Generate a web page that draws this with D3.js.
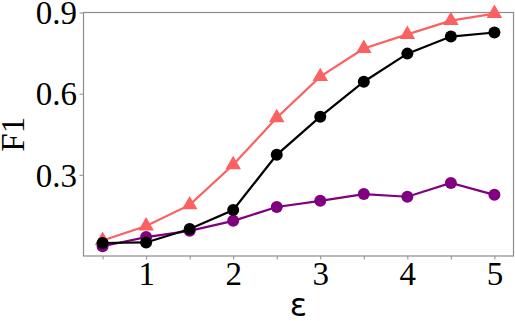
<!DOCTYPE html>
<html>
<head>
<meta charset="utf-8">
<script src="https://cdn.jsdelivr.net/npm/d3@7"></script>
<style>
  body { margin: 0; background: #fff; }
  text { font-family: "Liberation Serif", "Times New Roman", serif; }
</style>
</head>
<body>
<div id="chart"></div>
<script>
// epsilon values on x
var eps = [0.5, 1, 1.5, 2, 2.5, 3, 3.5, 4, 4.5, 5];
// F1 per series
var redF1 = [0.057, 0.111, 0.189, 0.337, 0.511, 0.663, 0.767, 0.819, 0.870, 0.896];
var blackF1 = [0.048, 0.050, 0.100, 0.170, 0.374, 0.515, 0.644, 0.748, 0.811, 0.826];
var purpleF1 = [0.036, 0.070, 0.093, 0.130, 0.181, 0.204, 0.229, 0.219, 0.270, 0.226];
var xTicks = [0.5, 1, 1.5, 2, 2.5, 3, 3.5, 4, 4.5, 5];
var xLabels = [1, 2, 3, 4, 5];
var yTicks = [0.3, 0.6, 0.9];

var width = 515, height = 321;
// plot box edges (don't call it "top", window.top is read only)
var plotL = 83, plotR = 514, plotT = 12.5, plotB = 256;

var svg = d3.select("#chart")
  .append("svg")
  .attr("width", width)
  .attr("height", height);

var x = d3.scaleLinear().domain([0.275, 5.225]).range([plotL, plotR]);
var y = d3.scaleLinear().domain([0, 0.9]).range([plotB, plotT]);

// frame
svg.append("rect")
  .attr("x", plotL + 0.5)
  .attr("y", plotT)
  .attr("width", plotR - plotL - 1)
  .attr("height", plotB - plotT)
  .attr("fill", "none")
  .attr("stroke", "#8c8c8c")
  .attr("stroke-width", 1.2);

// x axis: ticks every 0.5, labels on integers
var xAxis = d3.axisBottom(x)
  .tickValues(xTicks)
  .tickSize(3.5)
  .tickFormat(d => xLabels.indexOf(d) >= 0 ? d3.format("d")(d) : "");
var gx = svg.append("g")
  .attr("transform", "translate(0," + plotB + ")")
  .call(xAxis);
gx.select(".domain").remove();
gx.selectAll(".tick line").attr("stroke", "#8c8c8c");
gx.selectAll(".tick text")
  .attr("fill", "#000")
  .attr("y", 6)
  .style("font-size", "33px")
  .style("font-family", "Liberation Serif, serif");

var yAxis = d3.axisLeft(y)
  .tickValues(yTicks)
  .tickSize(3.5)
  .tickFormat(d3.format(".1f"));
var gy = svg.append("g")
  .attr("transform", "translate(" + plotL + ",0)")
  .call(yAxis);
gy.select(".domain").remove();
gy.selectAll(".tick line").attr("stroke", "#8c8c8c");
gy.selectAll(".tick text")
  .attr("fill", "#000")
  .attr("x", -6)
  .attr("dy", "0.34em")
  .style("font-size", "33px")
  .style("font-family", "Liberation Serif, serif");

// axis titles
svg.append("text")
  .attr("transform", "translate(24," + ((plotT + plotB) / 2) + ") rotate(-90)")
  .attr("text-anchor", "middle")
  .style("font-size", "33px")
  .text("F1");

svg.append("text")
  .attr("x", (plotL + plotR) / 2)
  .attr("y", 316)
  .attr("text-anchor", "middle")
  .style("font-family", "DejaVu Sans, sans-serif")
  .style("font-size", "32px")
  .text("\u03b5");

var line = d3.line()
  .x((d, i) => x(eps[i]))
  .y(d => y(d));

function series(vals, color, shape) {
  svg.append("path")
    .datum(vals)
    .attr("fill", "none")
    .attr("stroke", color)
    .attr("stroke-width", 2.2)
    .attr("d", line);
  if (shape == "tri") {
    svg.selectAll(null)
      .data(vals)
      .enter()
      .append("path")
      .attr("d", d3.symbol().type(d3.symbolTriangle).size(105))
      .attr("transform", (d, i) => "translate(" + x(eps[i]) + "," + y(d) + ")")
      .attr("fill", color);
  } else {
    svg.selectAll(null)
      .data(vals)
      .enter()
      .append("circle")
      .attr("cx", (d, i) => x(eps[i]))
      .attr("cy", d => y(d))
      .attr("r", 6)
      .attr("fill", color);
  }
}

series(redF1, "#fa6160", "tri");
series(purpleF1, "#800080", "circle");
series(blackF1, "#000000", "circle");
</script>
</body>
</html>
